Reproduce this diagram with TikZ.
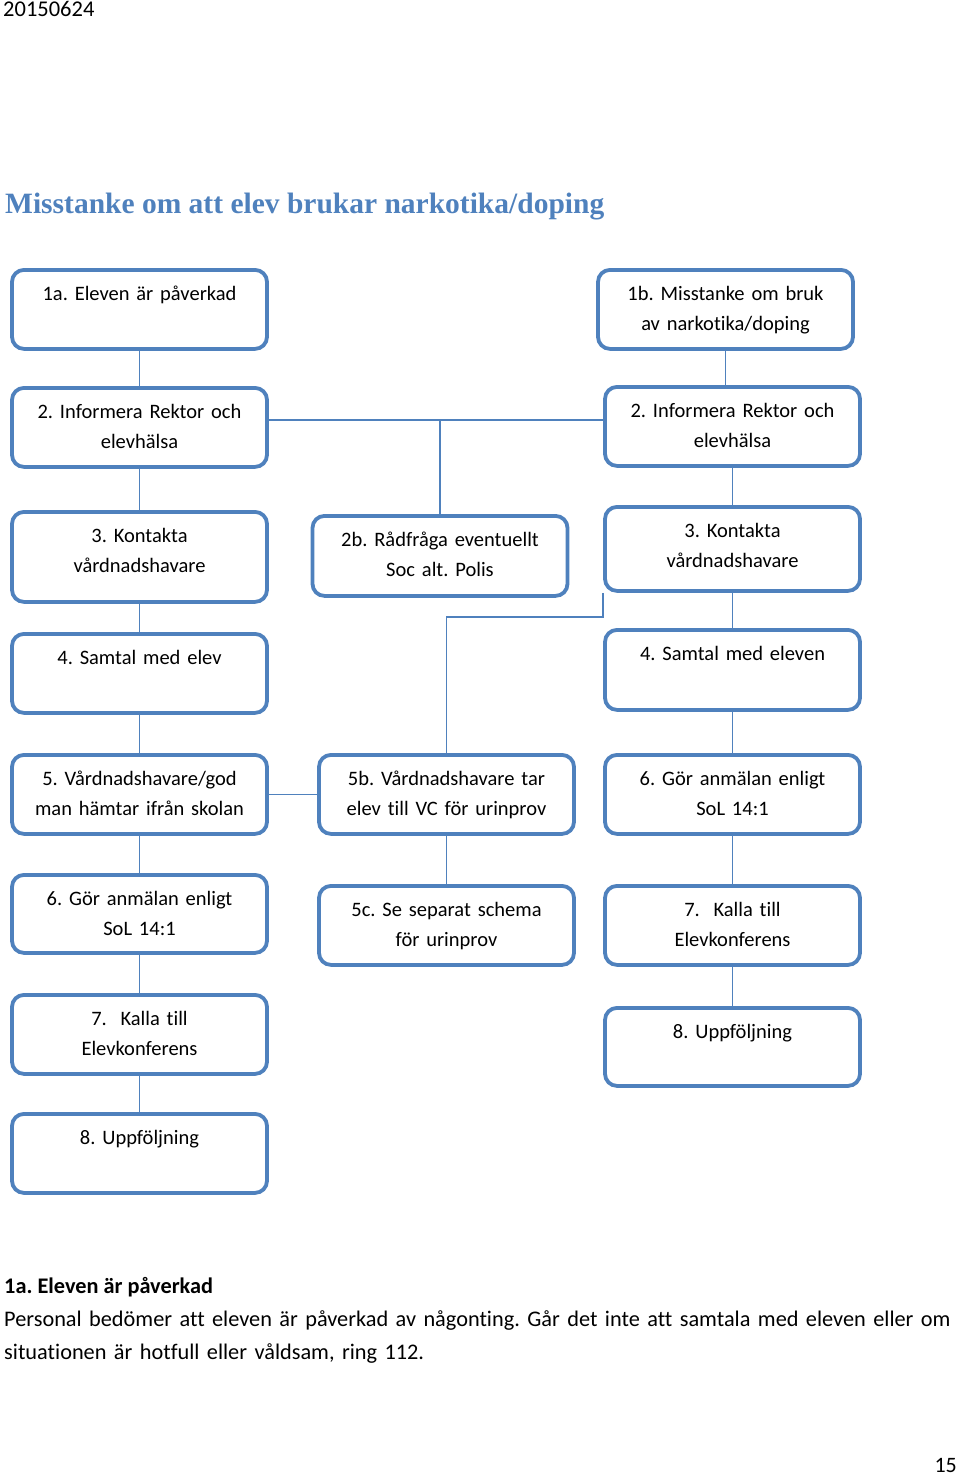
\documentclass[tikz,border=0pt]{standalone}
\usepackage{fontspec}
\setmainfont{Carlito}[Ligatures=NoCommon]
\newfontfamily\titlefont{Liberation Serif}
\usepackage{tikz}
\usetikzlibrary{positioning}
\definecolor{boxblue}{RGB}{79,129,189}
\definecolor{titleblue}{RGB}{79,129,189}
\frenchspacing

\begin{document}
\begin{tikzpicture}[
x=1pt,y=-1pt,
font=\fontsize{20.5}{30}\selectfont,
box/.style={draw=boxblue,line width=3.8pt,rounded corners=12pt,inner sep=0pt,
  text width=255pt,align=center,anchor=north,text height=31pt,text depth=#1},
box/.default=48pt,
link/.style={draw=boxblue,line width=1.6pt},
txt/.style={anchor=base west,inner sep=0pt}]
    % Page frame
    \useasboundingbox (0,0) rectangle (960,1478);

    % Date and title
    \node (date) [txt,font=\fontsize{22.5}{30}\selectfont] at (3,16) {20150624};
    \node (title) [txt,text=titleblue,font=\titlefont\bfseries\fontsize{29.5}{32}\selectfont]
        at (5,213) {Misstanke om att elev brukar narkotika/doping};

    % Left column
    \node (l1) [box] at (139.5,268) {1a. Eleven är påverkad};
    \node (l2) [box] at (139.5,386) {2. Informera Rektor och\\elevhälsa};
    \node (l3) [box=59pt] at (139.5,510) {3. Kontakta\\vårdnadshavare};
    \node (l4) [box] at (139.5,632) {4. Samtal med elev};
    \node (l5) [box] at (139.5,753) {5. Vårdnadshavare/god\\man hämtar ifrån skolan};
    \node (l6) [box=47pt] at (139.5,873) {6. Gör anmälan enligt\\SoL 14:1};
    \node (l7) [box] at (139.5,993) {7.\ \ Kalla till\\Elevkonferens};
    \node (l8) [box] at (139.5,1112) {8. Uppföljning};

    % Middle column
    \node (m2) [box=49pt] at (440,514) {2b. Rådfråga eventuellt\\Soc alt. Polis};
    \node (m5) [box] at (446.5,753) {5b. Vårdnadshavare tar\\elev till VC för urinprov};
    \node (m6) [box] at (446.5,884) {5c. Se separat schema\\för urinprov};

    % Right column
    \node (r1) [box] at (725.5,268) {1b. Misstanke om bruk\\av narkotika/doping};
    \node (r2) [box] at (732.5,385) {2. Informera Rektor och\\elevhälsa};
    \node (r3) [box=53pt] at (732.5,505) {3. Kontakta\\vårdnadshavare};
    \node (r4) [box=49pt] at (732.5,628) {4. Samtal med eleven};
    \node (r6) [box] at (732.5,753) {6. Gör anmälan enligt\\SoL 14:1};
    \node (r7) [box] at (732.5,884) {7.\ \ Kalla till\\Elevkonferens};
    \node (r8) [box=47pt] at (732.5,1006) {8. Uppföljning};

    % Connectors
    \draw[link] (l1) -- (l2);
    \draw[link] (l2) -- (l3);
    \draw[link] (l3) -- (l4);
    \draw[link] (l4) -- (l5);
    \draw[link] (l5) -- (l6);
    \draw[link] (l6) -- (l7);
    \draw[link] (l7) -- (l8);
    \draw[link] (r1.south) -- (r1.south |- r2.north);
    \draw[link] (r2) -- (r3);
    \draw[link] (r3) -- (r4);
    \draw[link] (r4) -- (r6);
    \draw[link] (r6) -- (r7);
    \draw[link] (r7) -- (r8);
    \coordinate (j2) at (440,420);
    \draw[link] (l2.east |- j2) -- (r2.west |- j2);
    \draw[link] (j2) -- (m2);
    \coordinate (k5) at (446.5,617);
    \draw[link] (r3.south west) |- (k5) -- (m5);
    \draw[link] (l5) -- (m5);
    \draw[link] (m5) -- (m6);

    % Explanation below
    \node (head) [txt,font=\fontsize{22.3}{33}\selectfont\bfseries] at (4,1293) {1a. Eleven är påverkad};
    \node (body) [txt,font=\fontsize{22.3}{33}\selectfont,text width=956pt,align=left] at (4,1326)
        {Personal bedömer att eleven är påverkad av någonting. Går det inte att samtala med eleven eller om\\
        situationen är hotfull eller våldsam, ring 112.};
    \node (page) [anchor=base east,inner sep=0pt,font=\fontsize{22}{30}\selectfont] at (957,1472) {15};
\end{tikzpicture}
\end{document}
